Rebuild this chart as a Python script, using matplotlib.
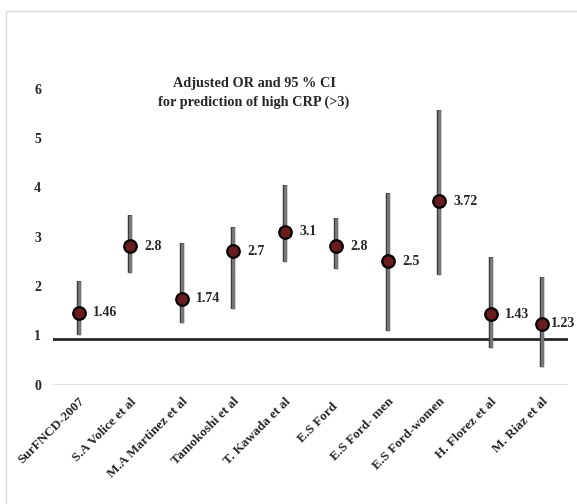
import matplotlib
matplotlib.use('Agg')
import matplotlib.pyplot as plt
from matplotlib.patches import Rectangle
from matplotlib.transforms import ScaledTranslation

# studies and adjusted OR with 95% CI
studies = ['SurFNCD-2007', 'S.A Volice et al', 'M.A Martinez et al', 'Tamokoshi et al',
           'T. Kawada et al', 'E.S Ford  ', 'E.S Ford- men', 'E.S Ford-women',
           'H. Florez et al', 'M. Riaz et al']
odds_ratio = [1.46, 2.8, 1.74, 2.7, 3.1, 2.8, 2.5, 3.72, 1.43, 1.23]
ci_low = [1.0, 2.27, 1.24, 1.53, 2.48, 2.34, 1.09, 2.22, 0.75, 0.35]
ci_high = [2.09, 3.43, 2.88, 3.19, 4.04, 3.37, 3.88, 5.57, 2.59, 2.19]
ref_line = 0.93
yticks = [0, 1, 2, 3, 4, 5, 6]

plt.rcParams['font.family'] = ['Liberation Serif', 'DejaVu Serif']
plt.rcParams['font.weight'] = 'bold'

fig = plt.figure(figsize=(5.77, 5.04), dpi=100)
# light border around the chart area
fig.patches.append(Rectangle((6 / 577, -0.1), 1.2, 1 - 11 / 504 + 0.1, transform=fig.transFigure,
                             fill=False, edgecolor='#d9d9d9', linewidth=1))
ax = fig.add_axes([0.0919, 0.2371, 0.8925, 0.5869])

x = list(range(len(studies)))
ax.set_xlim(-0.5, len(studies) - 0.5)
ax.set_ylim(0, 6)

# confidence intervals
ax.vlines(x, ci_low, ci_high, color='#3a3a3a', linewidth=3.2, zorder=2)
ax.vlines(x, ci_low, ci_high, color='#7a7a7a', linewidth=2.0, zorder=2)

ax.axhline(ref_line, color='#262626', linewidth=2, zorder=1)
ax.axhline(0, color='#d9d9d9', linewidth=1.2, zorder=0)

ax.plot(x, odds_ratio, 'o', markersize=9, markerfacecolor='#6b1d1d',
        markeredgecolor='black', markeredgewidth=1.6, zorder=3)

for i, (xi, v) in enumerate(zip(x, odds_ratio)):
    dx = 6 if i == len(x) - 1 else 10.5  # last label sits closer, as in the original
    ax.annotate(f'{v:g}', (xi, v), xytext=(dx, 0), textcoords='offset points',
                va='center', ha='left', fontsize=10, fontweight='bold', color='#262626')

ax.set_yticks(yticks)
ax.set_yticklabels([str(t) for t in yticks], fontsize=10, fontweight='bold', color='#262626')
ax.set_xticks(x)
ax.set_xticklabels(studies, rotation=45, ha='right', rotation_mode='anchor',
                   fontsize=9.5, fontweight='bold', color='#262626')
shift = ScaledTranslation(10 / 100, 0, fig.dpi_scale_trans)
for lbl in ax.get_xticklabels():
    lbl.set_transform(lbl.get_transform() + shift)
ax.tick_params(axis='both', length=0)
ax.tick_params(axis='y', pad=8.6)
ax.tick_params(axis='x', pad=8)
for s in ax.spines.values():
    s.set_visible(False)

fig.text(254 / 577, 1 - 93 / 504, 'Adjusted OR and 95 % CI\nfor prediction of high CRP (>3)',
         ha='center', va='center', fontsize=10.3, fontweight='bold', color='#262626',
         linespacing=1.45)

fig.savefig('out.png', dpi=100)
